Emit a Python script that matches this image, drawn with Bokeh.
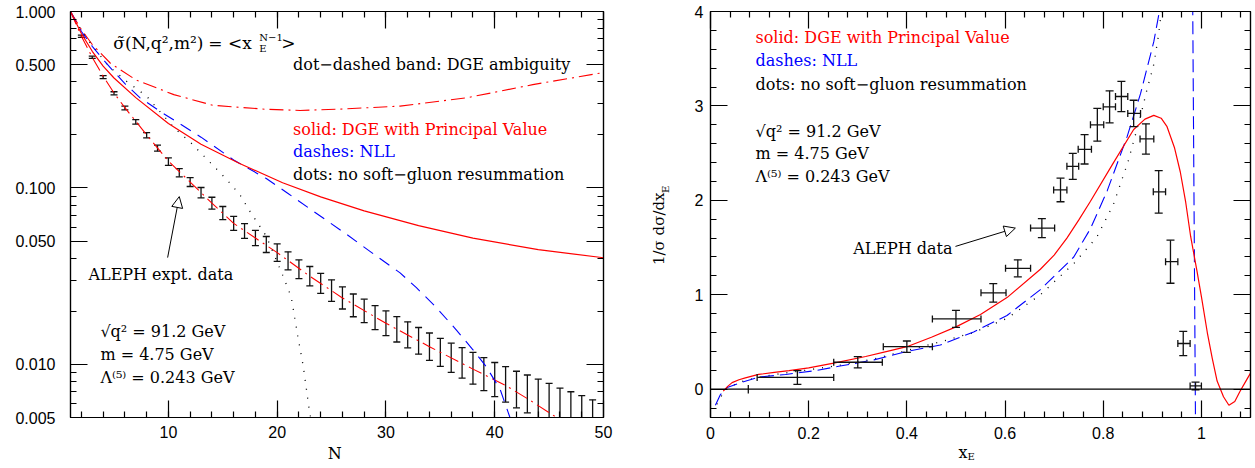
import math
import numpy as np
from bokeh.plotting import figure
from bokeh.models import (FixedTicker, LogAxis, LinearAxis, Label, Arrow, NormalHead,
                          Range1d, Span, CustomJSTickFormatter)
from bokeh.layouts import row
from bokeh.embed import file_html
from bokeh.resources import INLINE

SERIF = "DejaVu Serif"
SANS = "Liberation Sans"
RED = "#ff0000"
BLUE = "#0000ff"
INK = "#111111"

# ---------------- Left panel data: sigma~(N) = <x_E^(N-1)> ----------------
aleph_N = list(range(2, 50))
aleph_v = [0.724, 0.55, 0.425, 0.344, 0.284, 0.237, 0.199, 0.168, 0.141, 0.122,
           0.108, 0.094, 0.082, 0.072, 0.063, 0.057, 0.052, 0.0478, 0.043, 0.0386,
           0.0346, 0.0316, 0.0288, 0.0262, 0.0238, 0.0216, 0.0201, 0.0184, 0.0171, 0.0158,
           0.0147, 0.0136, 0.0126, 0.0117, 0.0109, 0.0102, 0.0095, 0.0088, 0.0082, 0.0077,
           0.0072, 0.0068, 0.0064, 0.0060, 0.0056, 0.0053, 0.0050, 0.0047]
aleph_relerr = [0.015, 0.015, 0.02, 0.02, 0.025, 0.03, 0.035, 0.04, 0.05, 0.055,
                0.06, 0.07, 0.08, 0.09, 0.095, 0.10, 0.105, 0.11, 0.12, 0.125,
                0.13, 0.135, 0.14, 0.15, 0.155, 0.16, 0.165, 0.17, 0.175, 0.18,
                0.185, 0.19, 0.195, 0.20, 0.21, 0.22, 0.23, 0.24, 0.25, 0.26,
                0.27, 0.28, 0.29, 0.30, 0.31, 0.32, 0.33, 0.34]

dge_pv_N = [1, 2, 3, 4, 5, 7, 10, 13, 16.5, 20.5, 24, 28, 33, 38, 44, 50]
dge_pv_v = [1.0, 0.75, 0.595, 0.49, 0.42, 0.325, 0.232, 0.177, 0.138, 0.107,
            0.089, 0.0742, 0.0611, 0.052, 0.0447, 0.0402]

nll_N = [1, 2, 3, 4, 5, 6, 7.4, 9.3, 11, 13, 16, 19, 21, 23.3, 26.4, 29.1, 31.3,
         32.8, 34.6, 36.5, 38, 39.2, 40.5, 41.4]
nll_v = [1.0, 0.77, 0.635, 0.535, 0.455, 0.39, 0.324, 0.27, 0.232, 0.194, 0.144,
         0.113, 0.093, 0.074, 0.0545, 0.0412, 0.0330, 0.0272, 0.0211, 0.0156, 0.0121,
         0.00975, 0.00721, 0.005]

fixed_N = [1, 2, 3, 4.5, 6.2, 8, 10.5, 12, 13.2, 15.4, 16.6, 17.5, 19, 20.6, 21.3,
           21.9, 22.4, 22.9, 23.1]
fixed_v = [1.0, 0.78, 0.64, 0.49, 0.40, 0.331, 0.22, 0.182, 0.153, 0.111, 0.091,
           0.0736, 0.0533, 0.031, 0.024, 0.0144, 0.00975, 0.0058, 0.0049]

band_hi_N = [1, 2, 3, 4.67, 7, 10.5, 14.1, 19, 22.1, 26, 31.3, 37.4, 43.5, 50]
band_hi_v = [1.0, 0.79, 0.65, 0.509, 0.41, 0.338, 0.294, 0.279, 0.275, 0.28, 0.291,
             0.324, 0.385, 0.451]

band_lo_N = [1, 2, 3, 4, 5, 6, 8, 10, 12, 14, 16, 18, 20, 23, 26, 30, 34, 38, 41, 43, 45.7]
band_lo_v = [1.0, 0.725, 0.55, 0.43, 0.345, 0.285, 0.2, 0.142, 0.108, 0.082, 0.063,
             0.052, 0.043, 0.0316, 0.0238, 0.0171, 0.0126, 0.0094, 0.0076, 0.0064, 0.005]

left_major = [0.005, 0.01, 0.05, 0.1, 0.5, 1.0]
left_major_labels = ["0.005", "0.010", "0.050", "0.100", "0.500", "1.000"]
left_minor = [0.006, 0.007, 0.008, 0.009, 0.02, 0.03, 0.04, 0.06, 0.07, 0.08, 0.09,
              0.2, 0.3, 0.4, 0.6, 0.7, 0.8, 0.9]
N_major = [10, 20, 30, 40, 50]
N_minor = list(range(2, 50, 2))

# ---------------- Right panel data: 1/sigma dsigma/dx_E ----------------
xe = [0.077, 0.177, 0.30, 0.40, 0.50, 0.576, 0.626, 0.675, 0.713, 0.738, 0.762,
      0.788, 0.813, 0.837, 0.862, 0.887, 0.913, 0.937, 0.963, 0.988]
xe_lo = [0.077, 0.095, 0.251, 0.352, 0.452, 0.551, 0.601, 0.652, 0.699, 0.726, 0.749,
         0.774, 0.80, 0.825, 0.85, 0.875, 0.902, 0.927, 0.952, 0.977]
xe_hi = [0.077, 0.251, 0.35, 0.452, 0.551, 0.602, 0.652, 0.701, 0.726, 0.75, 0.776,
         0.801, 0.825, 0.85, 0.876, 0.903, 0.927, 0.952, 0.977, 1.0]
ye = [0.0, 0.124, 0.285, 0.45, 0.744, 1.02, 1.28, 1.706, 2.11, 2.36, 2.54,
      2.80, 2.99, 3.10, 2.92, 2.65, 2.09, 1.35, 0.484, 0.034]
ye_err = [0.045, 0.073, 0.06, 0.06, 0.09, 0.097, 0.09, 0.10, 0.125, 0.137, 0.155,
          0.173, 0.17, 0.16, 0.14, 0.16, 0.225, 0.228, 0.128, 0.04]

pv_x = [0.026, 0.035, 0.044, 0.058, 0.071, 0.098, 0.13, 0.16, 0.2, 0.251, 0.316, 0.36,
        0.40, 0.45, 0.50, 0.55, 0.604, 0.672, 0.70, 0.726, 0.75, 0.774, 0.821, 0.862,
        0.885, 0.903, 0.918, 0.93, 0.945, 0.957, 0.968, 0.978, 0.991, 1.0, 1.012,
        1.022, 1.032, 1.045, 1.056, 1.068, 1.079, 1.09, 1.1]
pv_y = [-0.02, 0.03, 0.069, 0.1, 0.12, 0.156, 0.178, 0.197, 0.225, 0.276, 0.346, 0.40,
        0.45, 0.55, 0.66, 0.79, 0.97, 1.27, 1.42, 1.60, 1.79, 1.99, 2.40, 2.75,
        2.86, 2.90, 2.87, 2.78, 2.56, 2.30, 1.98, 1.62, 1.25, 0.98, 0.60,
        0.33, 0.086, -0.08, -0.17, -0.13, -0.02, 0.08, 0.17]

nllx_x = [0.01, 0.02, 0.034, 0.061, 0.098, 0.153, 0.214, 0.261, 0.333, 0.40, 0.468,
          0.536, 0.604, 0.672, 0.74, 0.774, 0.808, 0.849, 0.876, 0.903, 0.925]
nllx_y = [-0.17, -0.06, 0.017, 0.069, 0.128, 0.156, 0.197, 0.242, 0.31, 0.40, 0.467,
          0.606, 0.78, 1.055, 1.40, 1.70, 2.10, 2.68, 3.13, 3.68, 4.3]
nll_pole_x = [0.982, 0.988]
nll_pole_y = [4.3, -0.4]

fixx_x = [0.013, 0.03, 0.06, 0.1, 0.15, 0.2, 0.265, 0.333, 0.40, 0.468, 0.536, 0.604,
          0.672, 0.74, 0.787, 0.821, 0.85, 0.876, 0.889, 0.903, 0.913, 0.925]
fixx_y = [-0.16, 0.0, 0.075, 0.13, 0.17, 0.205, 0.255, 0.32, 0.41, 0.50, 0.60, 0.75,
          1.0, 1.33, 1.61, 1.96, 2.4, 2.89, 3.17, 3.44, 3.76, 4.3]

xE_major = [0, 0.2, 0.4, 0.6, 0.8, 1.0]
xE_major_labels = ["0", "0.2", "0.4", "0.6", "0.8", "1"]
xE_minor = [0.04, 0.08, 0.12, 0.16, 0.24, 0.28, 0.32, 0.36, 0.44, 0.48, 0.52, 0.56,
            0.64, 0.68, 0.72, 0.76, 0.84, 0.88, 0.92, 0.96, 1.04, 1.08]
dist_major = [0, 1, 2, 3, 4]
dist_major_labels = ["0", "1", "2", "3", "4"]
dist_minor = [-0.2, 0.2, 0.4, 0.6, 0.8, 1.2, 1.4, 1.6, 1.8, 2.2, 2.4, 2.6, 2.8,
              3.2, 3.4, 3.6, 3.8]


def style_axis(ax, labels=True):
    ax.axis_line_color = "black"
    ax.axis_line_width = 1.2
    ax.major_tick_in = 17
    ax.major_tick_out = 0
    ax.minor_tick_in = 6
    ax.minor_tick_out = 0
    ax.major_tick_line_color = "black"
    ax.minor_tick_line_color = "black"
    ax.major_tick_line_width = 1.2
    ax.minor_tick_line_width = 1.2
    ax.major_label_text_font = SANS
    ax.major_label_text_font_size = "16px"
    ax.major_label_text_color = "black"
    if not labels:
        ax.formatter = CustomJSTickFormatter(code="return ''")
        ax.major_label_standoff = 0


def label(p, x, y, s, color="black", size="16px", font=SERIF, xo=0, yo=0,
          align="left", angle=0.0, place=None):
    lab = Label(x=x, y=y, text=s, text_color=color, text_font=font,
                text_font_size=size, x_offset=xo, y_offset=yo,
                text_align=align, text_baseline="middle", angle=angle)
    if place is None:
        p.add_layout(lab)
    else:
        p.add_layout(lab, place)


# ================= Left figure =================
p1 = figure(width=640, height=468, x_range=Range1d(1, 50), y_range=Range1d(0.005, 1.0),
            y_axis_type="log", output_backend="svg", toolbar_location=None,
            min_border_left=70, min_border_right=37, min_border_top=11, min_border_bottom=46)
p1.grid.visible = False
p1.outline_line_color = "black"
p1.outline_line_width = 1.2

p1.yaxis.ticker = FixedTicker(ticks=left_major, minor_ticks=left_minor)
p1.xaxis.ticker = FixedTicker(ticks=N_major, minor_ticks=N_minor)
p1.yaxis.major_label_overrides = dict(zip(left_major, left_major_labels))
style_axis(p1.yaxis[0])
style_axis(p1.xaxis[0])
p1.yaxis.major_label_standoff = 15
p1.xaxis.major_label_standoff = 8

ra = LogAxis(ticker=FixedTicker(ticks=left_major, minor_ticks=left_minor))
style_axis(ra, labels=False)
p1.add_layout(ra, "right")
ta = LinearAxis(ticker=FixedTicker(ticks=N_major, minor_ticks=N_minor))
style_axis(ta, labels=False)
p1.add_layout(ta, "above")

# data with error bars
Nn = np.array(aleph_N, dtype=float)
vv = np.array(aleph_v)
ee = np.array(aleph_relerr)
hi = vv * (1 + ee)
lo = vv / (1 + ee)
p1.segment(x0=Nn, y0=lo, x1=Nn, y1=hi, line_color=INK, line_width=1.3)
p1.scatter(Nn, hi, marker="dash", size=7, line_color=INK, line_width=1.3)
p1.scatter(Nn, lo, marker="dash", size=7, line_color=INK, line_width=1.3)

p1.line(band_hi_N, band_hi_v, line_color=RED, line_width=1.1, line_dash="14 5 2 5")
p1.line(band_lo_N, band_lo_v, line_color=RED, line_width=1.1, line_dash="14 5 2 5")
p1.line(fixed_N, fixed_v, line_color="black", line_width=1.3, line_dash="1 8")
p1.line(nll_N, nll_v, line_color=BLUE, line_width=1.1, line_dash="12 8")
p1.line(dge_pv_N, dge_pv_v, line_color=RED, line_width=1.2)

# annotations
label(p1, 4.94, 0.662, "σ̃(N,q²,m²)", size="17px")
label(p1, 4.94, 0.662, "=  <x", size="17px", xo=95)
label(p1, 4.94, 0.662, "E", size="10px", xo=146, yo=-5)
label(p1, 4.94, 0.662, "N−1", size="10px", xo=146, yo=6)
label(p1, 4.94, 0.662, ">", size="17px", xo=168)
label(p1, 21.46, 0.498, "dot−dashed band: DGE ambiguity")
label(p1, 21.46, 0.2155, "solid: DGE with Principal Value", color=RED)
label(p1, 21.46, 0.160, "dashes: NLL", color=BLUE)
label(p1, 21.46, 0.119, "dots: no soft−gluon resummation")
label(p1, 2.65, 0.0325, "ALEPH expt. data")
label(p1, 3.75, 0.0153, "√q² = 91.2 GeV")
label(p1, 3.75, 0.01133, "m = 4.75 GeV")
label(p1, 3.75, 0.00838, "Λ⁽⁵⁾ = 0.243 GeV")
p1.add_layout(Arrow(end=NormalHead(size=11, fill_color="white", line_color="black", line_width=1),
                    x_start=9.93, y_start=0.0403, x_end=11.0, y_end=0.0893,
                    line_color="black", line_width=1))
# axis title (placed in a side panel so that it is not clipped by the frame)
label(p1, 25.3, 0.00313, "N", align="center", place="right")

# ================= Right figure =================
p2 = figure(width=615, height=468, x_range=Range1d(0, 1.1), y_range=Range1d(-0.3, 4.0),
            output_backend="svg", toolbar_location=None,
            min_border_left=70, min_border_right=5, min_border_top=8, min_border_bottom=51)
p2.grid.visible = False
p2.outline_line_color = "black"
p2.outline_line_width = 1.2

p2.xaxis.ticker = FixedTicker(ticks=xE_major, minor_ticks=xE_minor)
p2.yaxis.ticker = FixedTicker(ticks=dist_major, minor_ticks=dist_minor)
p2.xaxis.major_label_overrides = dict(zip(xE_major, xE_major_labels))
p2.yaxis.major_label_overrides = dict(zip(dist_major, dist_major_labels))
style_axis(p2.xaxis[0])
style_axis(p2.yaxis[0])
p2.xaxis.major_label_standoff = 9
p2.yaxis.major_label_standoff = 7

ra2 = LinearAxis(ticker=FixedTicker(ticks=dist_major, minor_ticks=dist_minor))
style_axis(ra2, labels=False)
p2.add_layout(ra2, "right")
ta2 = LinearAxis(ticker=FixedTicker(ticks=xE_major, minor_ticks=xE_minor))
style_axis(ta2, labels=False)
p2.add_layout(ta2, "above")

p2.add_layout(Span(location=0, dimension="width", line_color="black", line_width=1.2))

p2.line(fixx_x, fixx_y, line_color="black", line_width=1.3, line_dash="1 8")
p2.line(nllx_x, nllx_y, line_color=BLUE, line_width=1.1, line_dash="13 6")
p2.line(nll_pole_x, nll_pole_y, line_color=BLUE, line_width=1.1, line_dash="13 6")
p2.line(pv_x, pv_y, line_color=RED, line_width=1.2)

X = np.array(xe)
Y = np.array(ye)
YE = np.array(ye_err)
XL = np.array(xe_lo)
XH = np.array(xe_hi)
has_w = XH > XL
p2.segment(x0=X, y0=Y - YE, x1=X, y1=Y + YE, line_color=INK, line_width=1.3)
p2.scatter(X[has_w], (Y + YE)[has_w], marker="dash", size=8, line_color=INK, line_width=1.3)
p2.scatter(X[has_w], (Y - YE)[has_w], marker="dash", size=8, line_color=INK, line_width=1.3)
p2.segment(x0=XL[has_w], y0=Y[has_w], x1=XH[has_w], y1=Y[has_w], line_color=INK, line_width=1.3)
p2.scatter(XL[has_w], Y[has_w], marker="dash", size=7, angle=math.pi / 2, line_color=INK, line_width=1.3)
p2.scatter(XH[has_w], Y[has_w], marker="dash", size=7, angle=math.pi / 2, line_color=INK, line_width=1.3)

label(p2, 0.0917, 3.72, "solid: DGE with Principal Value", color=RED)
label(p2, 0.0917, 3.479, "dashes: NLL", color=BLUE)
label(p2, 0.0917, 3.225, "dots: no soft−gluon resummation")
label(p2, 0.0917, 2.734, "√q² = 91.2 GeV")
label(p2, 0.0917, 2.492, "m = 4.75 GeV")
label(p2, 0.0917, 2.249, "Λ⁽⁵⁾ = 0.243 GeV")
label(p2, 0.2906, 1.488, "ALEPH data")
p2.add_layout(Arrow(end=NormalHead(size=11, fill_color="white", line_color="black", line_width=1),
                    x_start=0.499, y_start=1.512, x_end=0.621, y_end=1.706,
                    line_color="black", line_width=1))

# axis titles (side panels, so they are not clipped by the frame)
label(p2, 0.5145, -0.675, "x", align="center", place="below")
label(p2, 0.5234, -0.716, "E", size="10px", place="left")
label(p2, -0.1039, 1.315, "1/σ dσ/dx", size="15px", angle=math.pi / 2, place="left")
label(p2, -0.1039, 1.315, "E", size="10px", angle=math.pi / 2, xo=6, yo=72, place="left")

layout = row(p1, p2)
open("out.html", "w").write(file_html(layout, INLINE))
